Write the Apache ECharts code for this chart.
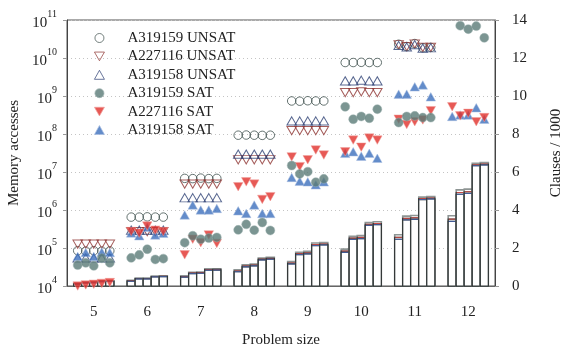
<!DOCTYPE html>
<html><head><meta charset="utf-8">
<script src="https://cdn.jsdelivr.net/npm/echarts@6/dist/echarts.min.js"></script>
<style>html,body{margin:0;padding:0;background:#fff}#c{width:579px;height:350px}</style>
</head><body><div id="c"></div>
<script>
const sizes = [5, 6, 7, 8, 9, 10, 11, 12];
const sizeLabels = ['5', '6', '7', '8', '9', '10', '11', '12'];

// Memory accesses, five instances per problem size (group-major)
const unsatA319159 = [
  8.5e4, 8.3e4, 8.5e4, 8.3e4, 8.4e4,
  6.5e5, 6.5e5, 6.6e5, 6.5e5, 6.5e5,
  6.8e6, 6.7e6, 6.9e6, 6.7e6, 6.8e6,
  9.3e7, 9.4e7, 9.3e7, 9.2e7, 9.3e7,
  7.4e8, 7.3e8, 7.5e8, 7.4e8, 7.4e8,
  7.6e9, 7.6e9, 7.7e9, 7.6e9, 7.6e9,
  2.3e10, 2.0e10, 2.4e10, 1.86e10, 1.9e10,
  null, null, null, null, null
];
const unsatA227116 = [
  1.26e5, 1.26e5, 1.26e5, 1.26e5, 1.26e5,
  2.7e5, 2.7e5, 2.7e5, 2.7e5, 2.7e5,
  4.8e6, 4.8e6, 4.8e6, 4.8e6, 4.8e6,
  2.1e7, 2.1e7, 2.1e7, 2.1e7, 2.1e7,
  1.23e8, 1.23e8, 1.23e8, 1.23e8, 1.23e8,
  1.23e9, 1.23e9, 1.28e9, 1.23e9, 1.23e9,
  2.24e10, 2.0e10, 2.34e10, 1.9e10, 1.9e10,
  null, null, null, null, null
];
const unsatA319158 = [
  5.5e4, 5.5e4, 5.5e4, 5.5e4, 5.5e4,
  2.95e5, 2.95e5, 2.95e5, 2.95e5, 2.95e5,
  2.1e6, 2.1e6, 2.1e6, 2.1e6, 2.1e6,
  2.95e7, 2.95e7, 2.95e7, 2.95e7, 2.95e7,
  2.2e8, 2.2e8, 2.2e8, 2.2e8, 2.2e8,
  2.5e9, 2.5e9, 2.6e9, 2.5e9, 2.5e9,
  2.14e10, 1.95e10, 2.24e10, 1.82e10, 1.86e10,
  null, null, null, null, null
];
const satA319159 = [
  3.55e4, 4.07e4, 3.39e4, 5.37e4, 4.07e4,
  5.5e4, 6.6e4, 9.3e4, 5.0e4, 5.25e4,
  1.38e5, 2.1e5, 1.7e5, 1.82e5, 1.9e5,
  3.0e5, 4.2e5, 2.95e5, 4.7e5, 2.9e5,
  1.48e7, 8.9e6, 1.02e7, 5.4e6, 6.6e6,
  5.2e8, 2.45e8, 2.9e8, 2.6e8, 4.5e8,
  2.0e8, 2.9e8, 3.0e8, 2.7e8, 2.7e8,
  null, 7.1e10, 5.75e10, 6.9e10, 3.4e10
];
const satA227116 = [
  1.0e4, 1.07e4, 1.11e4, 1.17e4, 1.23e4,
  2.7e5, 2.45e5, 3.8e5, 2.95e5, 2.7e5,
  6.6e4, 1.7e5, 1.38e5, 2.2e5, 1.32e5,
  4.1e6, 5.5e6, 4.8e6, 1.9e6, 2.24e6,
  2.5e7, 1.38e7, 2.1e7, 3.8e7, 2.8e7,
  3.4e7, 6.9e7, 4.5e7, 7.8e7, 6.9e7,
  2.45e8, 1.78e8, 2.1e8, 2.35e8, 4.1e8,
  5.2e8, 3.0e8, 3.5e8, 2.1e8, 2.7e8
];
const satA319158 = [
  6.0e4, 7.6e4, 6.0e4, 7.9e4, 7.6e4,
  2.5e5, 2.1e5, 3.5e5, 2.2e5, 2.45e5,
  7.4e5, 1.35e6, 1.0e6, 1.0e6, 1.1e6,
  9.5e5, 8.1e5, 1.35e6, 8.1e5, 8.1e5,
  7.2e6, 5.75e6, 5.5e6, 4.6e6, 5.5e6,
  3.1e7, 3.4e7, 2.6e7, 3.1e7, 2.3e7,
  1.12e9, 1.12e9, 1.74e9, 1.95e9, 9.5e8,
  2.9e8, 3.16e8, 3.16e8, 4.9e8, 2.45e8
];

// Clauses / 1000 per instance
const clausesA319159 = [
  0.14, 0.20, 0.21, 0.27, 0.28,
  0.30, 0.42, 0.42, 0.53, 0.54,
  0.54, 0.72, 0.74, 0.90, 0.91,
  0.85, 1.11, 1.16, 1.47, 1.51,
  1.29, 1.78, 1.82, 2.26, 2.29,
  1.94, 2.62, 2.66, 3.34, 3.38,
  2.70, 3.68, 3.71, 4.68, 4.71,
  3.70, 5.06, 5.10, 6.46, 6.50
];
const clausesA227116 = [
  0.12, 0.18, 0.19, 0.25, 0.26,
  0.27, 0.39, 0.39, 0.50, 0.51,
  0.50, 0.68, 0.70, 0.86, 0.87,
  0.79, 1.05, 1.10, 1.41, 1.45,
  1.21, 1.70, 1.74, 2.18, 2.21,
  1.84, 2.52, 2.56, 3.25, 3.29,
  2.56, 3.56, 3.59, 4.60, 4.63,
  3.52, 4.92, 4.96, 6.38, 6.42
];
const clausesA319158 = [
  0.10, 0.16, 0.17, 0.23, 0.24,
  0.25, 0.37, 0.37, 0.48, 0.49,
  0.47, 0.65, 0.67, 0.83, 0.84,
  0.75, 1.01, 1.06, 1.37, 1.41,
  1.16, 1.65, 1.69, 2.13, 2.16,
  1.77, 2.45, 2.49, 3.19, 3.23,
  2.46, 3.48, 3.51, 4.55, 4.58,
  3.40, 4.83, 4.87, 6.33, 6.37
];

const PER = 5, STEP = 0.15, HALF = 0.075;
function xOf(k) { return sizes[Math.floor(k / PER)] + ((k % PER) - 2) * STEP; }
function pts(arr) {
  const out = [];
  arr.forEach((v, k) => { if (v != null) out.push([xOf(k), v]); });
  return out;
}
const barData = clausesA319159.map((v, k) => [xOf(k), v, clausesA227116[k], clausesA319158[k]]);

const FONT = 'Liberation Serif';
const FS = 15;
const downTri = 'path://M0,0L20,0L10,17.3Z';

function renderBar(params, api) {
  const x = api.value(0);
  const hs = [api.value(1), api.value(2), api.value(3)];
  const base = api.coord([x - HALF, 0]);
  const right = api.coord([x + HALF, 0])[0];
  const w = right - base[0];
  const children = [];
  const strokes = ['#8e9594', '#2e3434', '#2e3434'];
  const tops = [null, '#c94a44', '#4561a3'];
  hs.forEach((h, j) => {
    const top = api.coord([x, h])[1];
    children.push({ type: 'rect', shape: { x: base[0], y: top, width: w, height: base[1] - top },
      style: { fill: '#fff', stroke: strokes[j], lineWidth: j === 0 ? 1.6 : 1.2 } });
    if (tops[j]) children.push({ type: 'line', shape: { x1: base[0] + 0.5, y1: top, x2: right - 0.5, y2: top },
      style: { stroke: tops[j], lineWidth: 1 } });
  });
  return { type: 'group', children };
}

const legendNames = ['A319159 UNSAT', 'A227116 UNSAT', 'A319158 UNSAT', 'A319159 SAT', 'A227116 SAT', 'A319158 SAT'];

const chart = echarts.init(document.getElementById('c'), null, { renderer: 'canvas' });
chart.setOption({
  animation: false,
  textStyle: { fontFamily: FONT },
  grid: { left: 67, right: 84, top: 20, bottom: 64, show: true, borderColor: '#555', borderWidth: 1,
          containLabel: false, outerBoundsMode: 'none' },
  legend: {
    orient: 'vertical', left: 89, top: 25, itemWidth: 10, itemHeight: 9, itemGap: 2.4,
    itemStyle: { borderWidth: 0.9 },
    textStyle: { fontFamily: FONT, fontSize: FS, color: '#222', lineHeight: 16, padding: [0, 0, 0, 18] },
    data: legendNames
  },
  xAxis: [
    { type: 'category', data: sizeLabels, boundaryGap: true,
      axisLine: { lineStyle: { color: '#666', width: 1 } },
      axisTick: { alignWithLabel: true, length: 4, lineStyle: { color: '#888' } },
      axisLabel: { fontFamily: FONT, fontSize: FS, color: '#222', margin: 19 },
      name: 'Problem size', nameLocation: 'middle', nameGap: 47,
      nameTextStyle: { fontFamily: FONT, fontSize: FS, color: '#222' } },
    { type: 'value', min: 4.5, max: 12.5, show: false }
  ],
  yAxis: [
    { type: 'log', logBase: 10, min: 1e4, max: 1e11, splitNumber: 7, position: 'left',
      axisLine: { show: true, lineStyle: { color: '#444' } },
      axisTick: { show: true, length: 4, lineStyle: { color: '#999' } },
      splitLine: { show: true, lineStyle: { color: '#c4c4c4', type: [1, 3] } },
      axisLabel: { margin: 10, formatter: v => '{b|10}{s|' + Math.round(Math.log10(v)) + '}',
        rich: { b: { fontFamily: FONT, fontSize: FS, color: '#222', lineHeight: 21, verticalAlign: 'bottom' },
                s: { fontFamily: FONT, fontSize: 10, color: '#222', verticalAlign: 'top' } } },
      name: 'Memory accesses', nameLocation: 'middle', nameGap: 45, nameRotate: 90,
      nameTextStyle: { fontFamily: FONT, fontSize: FS, color: '#222' } },
    { type: 'value', min: 0, max: 14, interval: 2, position: 'right',
      axisLine: { show: true, lineStyle: { color: '#444' } },
      axisTick: { show: true, length: 4, lineStyle: { color: '#999' } },
      splitLine: { show: false },
      axisLabel: { fontFamily: FONT, fontSize: FS, color: '#222', margin: 17 },
      name: 'Clauses / 1000', nameLocation: 'middle', nameGap: 54, nameRotate: 90,
      nameTextStyle: { fontFamily: FONT, fontSize: FS, color: '#222' } }
  ],
  series: [
    { type: 'custom', name: 'clauses', xAxisIndex: 1, yAxisIndex: 1, renderItem: renderBar,
      data: barData, z: 1, clip: false },
    { type: 'scatter', name: 'A319159 UNSAT', xAxisIndex: 1, yAxisIndex: 0, data: pts(unsatA319159),
      symbol: 'circle', symbolSize: 8.5, clip: false, z: 2,
      itemStyle: { color: 'rgba(255,255,255,0)', borderColor: '#3f504d', borderWidth: 1 } },
    { type: 'scatter', name: 'A227116 UNSAT', xAxisIndex: 1, yAxisIndex: 0, data: pts(unsatA227116),
      symbol: downTri, symbolSize: [9.5, 8.2], clip: false, z: 2,
      itemStyle: { color: 'rgba(255,255,255,0)', borderColor: '#8e3532', borderWidth: 1 } },
    { type: 'scatter', name: 'A319158 UNSAT', xAxisIndex: 1, yAxisIndex: 0, data: pts(unsatA319158),
      symbol: 'triangle', symbolSize: [9.5, 8.2], clip: false, z: 2,
      itemStyle: { color: 'rgba(255,255,255,0)', borderColor: '#2f4275', borderWidth: 1 } },
    { type: 'scatter', name: 'A319158 SAT', xAxisIndex: 1, yAxisIndex: 0, data: pts(satA319158),
      symbol: 'triangle', symbolSize: [9.5, 8.5], clip: false, z: 3,
      itemStyle: { color: '#3c6fbd', borderColor: '#a8bde0', borderWidth: 0.6 } },
    { type: 'scatter', name: 'A227116 SAT', xAxisIndex: 1, yAxisIndex: 0, data: pts(satA227116),
      symbol: downTri, symbolSize: [9.5, 8.5], clip: false, z: 4,
      itemStyle: { color: '#e1302a', borderColor: '#f0a09c', borderWidth: 0.6 } },
    { type: 'scatter', name: 'A319159 SAT', xAxisIndex: 1, yAxisIndex: 0, data: pts(satA319159),
      symbol: 'circle', symbolSize: 9, clip: false, z: 5,
      itemStyle: { color: '#5a7a77', borderColor: '#9cb0ae', borderWidth: 0.6 } }
  ]
});
</script></body></html>
